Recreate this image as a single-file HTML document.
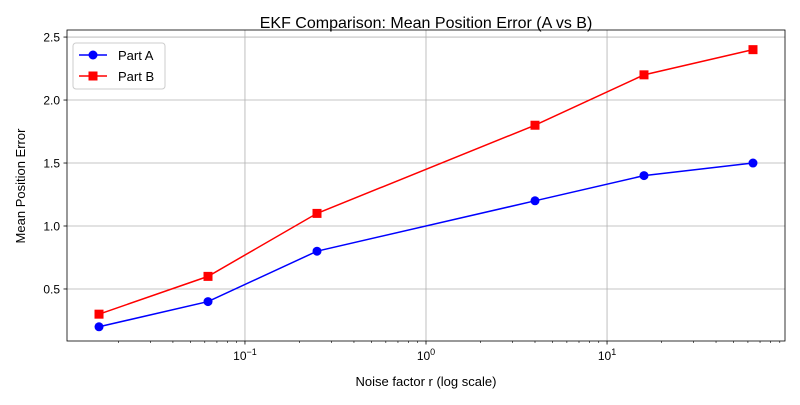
<!DOCTYPE html>
<html><head><meta charset="utf-8"><style>
body{margin:0;background:#fff;}
svg text{font-family:"Liberation Sans","DejaVu Sans",sans-serif;fill:#000;}
</style></head><body>
<svg id="chart" width="800" height="400" xmlns="http://www.w3.org/2000/svg">
<rect width="800" height="400" fill="#fff"/>
<g id="grid"></g>
<g id="axes"></g>
<g id="series"></g>
<text x="426" y="28" font-size="16" text-anchor="middle">EKF Comparison: Mean Position Error (A vs B)</text>
<text x="426" y="386" font-size="13" text-anchor="middle">Noise factor r (log scale)</text>
<text x="25" y="186" font-size="13" text-anchor="middle" transform="rotate(-90 25 186)">Mean Position Error</text>
<g>
<rect x="73" y="43" width="92" height="46" fill="#fff" fill-opacity="0.8" stroke="#ccc" rx="3"/>
<g>
<line x1="79" y1="55" x2="107" y2="55" stroke="#0000ff" stroke-width="1.5"/><circle cx="93" cy="55" r="4.5" fill="#0000ff"/>
<text x="118" y="60" font-size="13">Part A</text></g>
<g>
<line x1="79" y1="76" x2="107" y2="76" stroke="#ff0000" stroke-width="1.5"/><rect x="88.5" y="71.5" width="9" height="9" fill="#ff0000"/>
<text x="118" y="81" font-size="13">Part B</text></g>
</g>
</svg>
<script>
const xValues=[0.015625,0.0625,0.25,4,16,64];
const seriesA=[0.2,0.4,0.8,1.2,1.4,1.5];
const seriesB=[0.3,0.6,1.1,1.8,2.2,2.4];
const yTicks=[0.5,1.0,1.5,2.0,2.5];
const xDecades=[-1,0,1];
const NS="http://www.w3.org/2000/svg";
const L=67,R=785,T=30,B=341;
const xmin=-1.983,xmax=1.983,ymin=0.087,ymax=2.556;
const sx=v=>L+(Math.log10(v)-xmin)/(xmax-xmin)*(R-L);
const sy=v=>B-(v-ymin)/(ymax-ymin)*(B-T);
function mk(tag,attrs,parent){const e=document.createElementNS(NS,tag);for(const k in attrs)e.setAttribute(k,attrs[k]);parent.appendChild(e);return e;}
const grid=document.getElementById('grid'),axes=document.getElementById('axes'),ser=document.getElementById('series');
yTicks.forEach(t=>{const y=sy(t);
const g=mk('line',{x1:L,x2:R,y1:y,y2:y,stroke:'#b0b0b0','stroke-width':0.8},grid);

mk('line',{x1:L-3.5,x2:L,y1:y,y2:y,stroke:'#000','stroke-width':0.8},axes);
const tx=mk('text',{x:L-7,y:y+4.5,'font-size':12,'text-anchor':'end'},axes);tx.textContent=t.toFixed(1);
});
xDecades.forEach(d=>{const x=sx(Math.pow(10,d));
const g=mk('line',{x1:x,x2:x,y1:T,y2:B,stroke:'#b0b0b0','stroke-width':0.8},grid);

mk('line',{x1:x,x2:x,y1:B,y2:B+3.5,stroke:'#000','stroke-width':0.8},axes);
const tx=mk('text',{x:x,y:B+19,'font-size':12,'text-anchor':'middle'},axes);
const t1=mk('tspan',{},tx);t1.textContent='10';
const sp=mk('tspan',{dy:-5,'font-size':9},tx);sp.textContent=String(d).replace('-','\u2212');
});
for(let d=-2;d<=1;d++)for(let m=2;m<=9;m++){const v=m*Math.pow(10,d);const lv=Math.log10(v);
if(lv<xmin||lv>xmax)continue;const x=sx(v);mk('line',{x1:x,x2:x,y1:B,y2:B+2,stroke:'#000','stroke-width':0.6},axes);}
mk('rect',{x:L,y:T,width:R-L,height:B-T,fill:'none',stroke:'#000','stroke-width':0.8},axes);
function draw(vals,color,marker,name){
const pts=xValues.map((x,i)=>sx(x)+','+sy(vals[i])).join(' ');
const pl=mk('polyline',{points:pts,fill:'none',stroke:color,'stroke-width':1.5},ser);

xValues.forEach((x,i)=>{let m;
if(marker==='o')m=mk('circle',{cx:sx(x),cy:sy(vals[i]),r:4.5,fill:color},ser);
else m=mk('rect',{x:sx(x)-4.5,y:sy(vals[i])-4.5,width:9,height:9,fill:color},ser);
});}
draw(seriesA,'#0000ff','o','part-a');
draw(seriesB,'#ff0000','s','part-b');
</script>
</body></html>
